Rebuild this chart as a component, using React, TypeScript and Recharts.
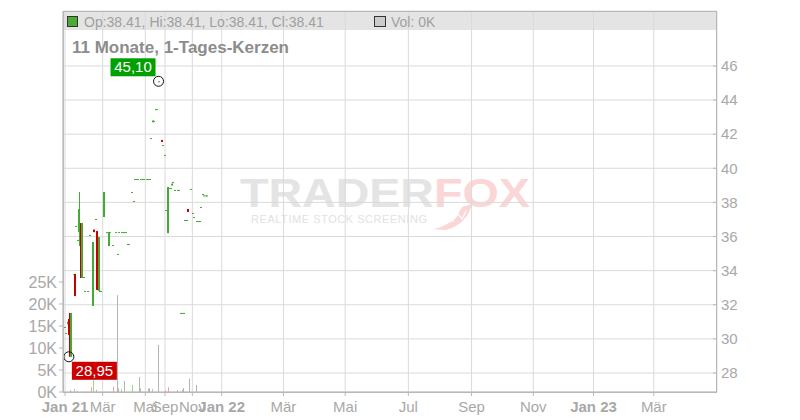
import { Bar, CartesianGrid, ComposedChart, ReferenceDot, XAxis, YAxis } from 'recharts';

// Trading-day index of each candle, with open/high/low/close.
const candleT = [1, 2, 3, 4, 5, 7, 8, 9, 10, 11, 12, 13, 14, 15, 17, 18, 20, 21, 22, 23, 24, 25, 26, 28, 30, 31, 32, 34, 36, 37, 38, 40, 41, 43, 44, 45, 47, 48, 49, 50, 51, 53, 54, 55, 57, 58, 59, 60, 61, 62, 63, 64, 65, 67, 68, 69, 70, 71, 72, 73, 74, 75, 76, 78, 79, 80, 81, 82, 83, 84, 85, 87, 88, 89, 91, 92, 93, 94, 95, 96, 97, 98];
const openP = [
  30.7, 30.35, 30.85, 31.17, 28.95, 33.8, 33.8, 36.62, 35.8, 36.26,
  36.79, 33.57, 33.63, 32.81, 32.81, 36.09, 31.93, 36.4, 37.03, 36.32,
  32.81, 32.81, 32.81, 37.14, 36.26, 35.44, 36.26, 35.5, 36.26, 34.98,
  36.26, 36.26, 36.26, 36.26, 35.56, 35.56, 38.61, 38.08, 39.37, 39.37,
  39.37, 39.37, 39.37, 39.37, 39.37, 39.37, 39.37, 41.77, 42.7, 42.77,
  43.47, 43.47, 45.1, 41.66, 41.36, 40.78, 37.55, 36.2, 38.84, 38.84,
  39.0, 39.2, 38.73, 38.73, 38.73, 31.52, 31.52, 31.52, 36.97, 36.97,
  37.61, 38.79, 37.38, 37.14, 36.91, 36.91, 36.91, 37.73, 38.49, 38.41,
  38.41, 38.41,
];
const highP = [
  30.7, 30.35, 31.0, 31.52, 31.52, 33.8, 33.8, 36.62, 35.8, 38.61,
  36.79, 36.79, 33.63, 32.81, 32.81, 36.09, 35.68, 36.4, 37.03, 36.32,
  35.97, 32.81, 32.81, 38.61, 36.26, 36.26, 36.26, 35.5, 36.26, 34.98,
  36.26, 36.26, 36.26, 36.26, 35.56, 35.56, 38.61, 38.08, 39.37, 39.37,
  39.37, 39.37, 39.37, 39.37, 39.37, 39.37, 39.37, 41.77, 42.8, 42.77,
  43.47, 43.47, 45.1, 41.66, 41.36, 40.78, 37.55, 38.9, 38.84, 38.84,
  39.1, 39.2, 38.73, 38.73, 38.73, 31.52, 31.52, 31.52, 36.97, 36.97,
  37.61, 38.79, 37.38, 37.14, 36.91, 36.91, 36.91, 37.73, 38.49, 38.41,
  38.41, 38.41,
];
const lowP = [
  30.7, 30.35, 30.85, 28.95, 28.95, 33.8, 32.51, 36.62, 35.8, 35.44,
  33.57, 33.57, 33.63, 32.81, 32.81, 36.09, 31.93, 36.26, 37.03, 32.87,
  32.81, 32.81, 32.81, 37.14, 36.26, 35.44, 36.26, 35.5, 36.26, 34.98,
  36.26, 36.26, 36.26, 36.26, 35.56, 35.56, 38.61, 38.08, 39.37, 39.37,
  39.37, 39.37, 39.37, 39.37, 39.37, 39.37, 39.37, 41.77, 42.7, 42.77,
  43.47, 43.47, 45.1, 41.55, 41.36, 40.78, 37.55, 36.2, 38.84, 38.84,
  39.0, 39.2, 38.73, 38.73, 38.73, 31.52, 31.52, 31.52, 36.97, 36.97,
  37.44, 38.79, 37.38, 37.14, 36.91, 36.91, 36.91, 37.73, 38.49, 38.41,
  38.41, 38.41,
];
const closeP = [
  30.7, 30.35, 31.0, 30.23, 31.52, 33.8, 32.51, 36.62, 35.8, 37.61,
  33.57, 36.79, 33.63, 32.81, 32.81, 36.09, 35.68, 36.26, 37.03, 32.87,
  35.97, 32.81, 32.81, 38.61, 36.26, 36.26, 36.26, 35.5, 36.26, 34.98,
  36.26, 36.26, 36.26, 36.26, 35.56, 35.56, 38.61, 38.08, 39.37, 39.37,
  39.37, 39.37, 39.37, 39.37, 39.37, 39.37, 39.37, 41.77, 42.8, 42.77,
  43.47, 43.47, 45.1, 41.55, 41.36, 40.78, 37.55, 38.9, 38.84, 38.84,
  39.1, 39.2, 38.73, 38.73, 38.73, 31.52, 31.52, 31.52, 36.97, 36.97,
  37.44, 38.79, 37.38, 37.14, 36.91, 36.91, 36.91, 37.73, 38.49, 38.41,
  38.41, 38.41,
];

// Volume bars (shares) and whether that day closed up, down or flat.
const volT = [5, 8, 10, 19, 21, 23, 34, 37, 38, 40, 42, 47, 52, 53, 58, 59, 61, 65, 70, 72, 78, 81, 82, 86, 91];
const volume = [450, 700, 200, 1100, 2700, 500, 1200, 22000, 800, 700, 2500, 1600, 3400, 800, 800, 800, 700, 10700, 450, 1100, 450, 450, 900, 3000, 1600];
const volDir = ['up', 'up', 'flat', 'down', 'up', 'flat', 'down', 'flat', 'flat', 'up', 'flat', 'up', 'flat', 'flat', 'flat', 'flat', 'up', 'flat', 'down', 'down', 'flat', 'flat', 'flat', 'flat', 'flat'];

// Axis ticks: month starts on the trading-day index.
const monthTicks = [1.4, 27, 56, 69.4, 88, 108, 150, 192, 235, 278, 320, 361, 402];
const monthLabels = ['Jan 21', 'Mär', 'Mai', 'Sep', 'Nov', 'Jan 22', 'Mär', 'Mai', 'Jul', 'Sep', 'Nov', 'Jan 23', 'Mär'];
const priceTicks = [28, 30, 32, 34, 36, 38, 40, 42, 44, 46];
const volTicks = [0, 5000, 10000, 15000, 20000, 25000];

const highMark = { t: 65, p: 45.1, label: '45,10' };
const lowMark = { t: 4, p: 28.95, label: '28,95' };

const GREEN = '#45a935';
const RED = '#c40000';
const AXIS = '#b8b8b8';
const FONT = '"Liberation Sans", Arial, sans-serif';

type Row = { t: number; o?: number; h?: number; l?: number; c?: number; v?: number; dir?: string };

const rowMap = new Map<number, Row>();
candleT.forEach((t, i) => {
  rowMap.set(t, { t, o: openP[i], h: highP[i], l: lowP[i], c: closeP[i] });
});
volT.forEach((t, i) => {
  const r = rowMap.get(t) ?? { t };
  r.v = volume[i];
  r.dir = volDir[i];
  rowMap.set(t, r);
});
const rows = [...rowMap.values()].sort((a, b) => a.t - b.t);

function Candle(props: any) {
  const { x, y, width, height, payload } = props;
  if (!payload || payload.o == null || !Number.isFinite(y)) return null;
  const cx = Math.round(x + width / 2);
  const span = payload.h - payload.l;
  const at = (p: number) => (span > 0 ? y + ((payload.h - p) / span) * height : y);
  const color = payload.c >= payload.o ? GREEN : RED;
  const top = Math.min(at(payload.o), at(payload.c));
  const bot = Math.max(at(payload.o), at(payload.c));
  return (
    <g>
      {height > 0 && <rect x={cx} y={y} width={1} height={height} fill={color} />}
      <rect x={cx - 1} y={top} width={2} height={Math.max(1, bot - top)} fill={color} />
    </g>
  );
}

function VolBar(props: any) {
  const { x, y, width, height, payload } = props;
  if (!payload || payload.v == null || !(height > 0)) return null;
  const cx = Math.round(x + width / 2);
  const fill = payload.dir === 'up' ? '#9ad88e' : payload.dir === 'down' ? '#f0a0a0' : '#b4b4b4';
  return <rect x={cx} y={y} width={1} height={height} fill={fill} />;
}

function MonthTick(props: any) {
  const { x, y, payload } = props;
  const i = monthTicks.indexOf(payload.value);
  const label = monthLabels[i] ?? '';
  return (
    <text x={x} y={y} dy="0.71em" textAnchor="middle" fontFamily={FONT} fontSize={15}
      fill="#a8a8a8" fontWeight={label.startsWith('Jan') ? 'bold' : 'normal'}>
      {label}
    </text>
  );
}

// Price ticks point into the plot, the label sits just outside.
function PriceTick(props: any) {
  const { x, y, payload } = props;
  return (
    <g>
      <line x1={x - 8} x2={x - 4} y1={y} y2={y} stroke={AXIS} />
      <text x={x} y={y} dy="0.355em" textAnchor="start" fontFamily={FONT} fontSize={15} fill="#a8a8a8">
        {payload.value}
      </text>
    </g>
  );
}

function Marker(props: any) {
  const { cx, cy, text, color, side } = props;
  if (!Number.isFinite(cx) || !Number.isFinite(cy)) return null;
  const bw = 45;
  const bh = 18;
  const bx = side === 'up' ? cx - 3 - bw : cx + 3;
  const by = side === 'up' ? cy - 5 - bh : cy + 5;
  return (
    <g>
      <circle cx={cx} cy={cy} r={5} fill="none" stroke="#111" strokeWidth={1} />
      <rect x={bx} y={by} width={bw} height={bh} fill={color} />
      <text x={bx + bw / 2} y={by + 14} textAnchor="middle" fontFamily={FONT} fontSize={15} fill="#fff">
        {text}
      </text>
    </g>
  );
}

export default function App() {
  const plot = { left: 63, top: 11, right: 717, bottom: 392 };
  return (
    <div style={{ position: 'fixed', left: 0, top: 0, width: 800, height: 420, background: '#fff' }}>
      <svg width={800} height={420} style={{ position: 'absolute', left: 0, top: 0 }}>
        <rect x={plot.left} y={plot.top} width={plot.right - plot.left} height={19} fill="#e4e4e4" />
        <text x={240} y={207} fontFamily={FONT} fontWeight="bold" fontSize={40} fill="#e4e4e4"
          textLength={194} lengthAdjust="spacingAndGlyphs">TRADER</text>
        <text x={434} y={207} fontFamily={FONT} fontWeight="bold" fontSize={40} fill="#fad6d6"
          textLength={96} lengthAdjust="spacingAndGlyphs">FOX</text>
        <path d="M433 229 C446 227 456 220 462 207 L472 204 C469 216 461 226 446 230 Z" fill="#fad6d6" />
        <path d="M452 222 L458 214 L462 219 L466 211" fill="none" stroke="#fff" strokeWidth={1.2} />
        <text x={251} y={223} fontFamily={FONT} fontSize={11} fill="#e2e2e2"
          textLength={176} lengthAdjust="spacing">REALTIME STOCK SCREENING</text>
      </svg>
      <div style={{ position: 'absolute', left: 0, top: 0 }}>
        <ComposedChart width={800} height={420} data={rows}
          margin={{ top: plot.top, right: 800 - plot.right - 60, bottom: 0, left: plot.left - 40 }}>
          <CartesianGrid yAxisId="price" stroke="#dadada" />
          <XAxis dataKey="t" type="number" domain={[0, 445]} allowDataOverflow ticks={monthTicks}
            interval={0} height={28} tickSize={4} tickMargin={5} stroke={AXIS}
            tick={<MonthTick />} />
          <YAxis yAxisId="vol" orientation="left" width={40} domain={[0, 86590]} allowDataOverflow
            ticks={volTicks} interval={0} tickSize={4} tickMargin={2} stroke={AXIS}
            tickFormatter={(v: number) => `${v / 1000}K`}
            tick={{ fill: '#a8a8a8', fontSize: 16, fontFamily: FONT }} />
          <YAxis yAxisId="price" orientation="right" width={60} domain={[26.886, 49.22]} allowDataOverflow
            ticks={priceTicks} interval={0} tickSize={4} tickMargin={0} tickLine={false} axisLine={false}
            tick={<PriceTick />} />
          <Bar yAxisId="vol" dataKey="v" barSize={1} shape={<VolBar />} isAnimationActive={false} />
          <Bar yAxisId="price" dataKey={(r: Row) => (r.o == null ? null : [r.l, r.h])} barSize={2}
            shape={<Candle />} isAnimationActive={false} />
          <ReferenceDot yAxisId="price" x={highMark.t} y={highMark.p} r={5}
            shape={(p: any) => <Marker {...p} text={highMark.label} color="#00a000" side="up" />} />
          <ReferenceDot yAxisId="price" x={lowMark.t} y={lowMark.p} r={5}
            shape={(p: any) => <Marker {...p} text={lowMark.label} color="#cc0000" side="down" />} />
        </ComposedChart>
      </div>
      <svg width={800} height={420} style={{ position: 'absolute', left: 0, top: 0, pointerEvents: 'none' }}>
        <rect x={plot.left + 0.5} y={plot.top + 0.5} width={plot.right - plot.left - 1}
          height={plot.bottom - plot.top} fill="none" stroke={AXIS} />
        <rect x={67.5} y={16.5} width={10} height={10} fill="#4aab35" stroke="#333" />
        <text x={84} y={26.5} fontFamily={FONT} fontSize={14} fill="#a0a0a0">Op:38.41, Hi:38.41, Lo:38.41, Cl:38.41</text>
        <rect x={374.5} y={16.5} width={11} height={10} fill="#cccccc" stroke="#333" />
        <text x={391} y={26.5} fontFamily={FONT} fontSize={14} fill="#a0a0a0">Vol: 0K</text>
        <text x={72} y={53} fontFamily={FONT} fontWeight="bold" fontSize={17} fill="#8c8c8c">11 Monate, 1-Tages-Kerzen</text>
      </svg>
    </div>
  );
}
